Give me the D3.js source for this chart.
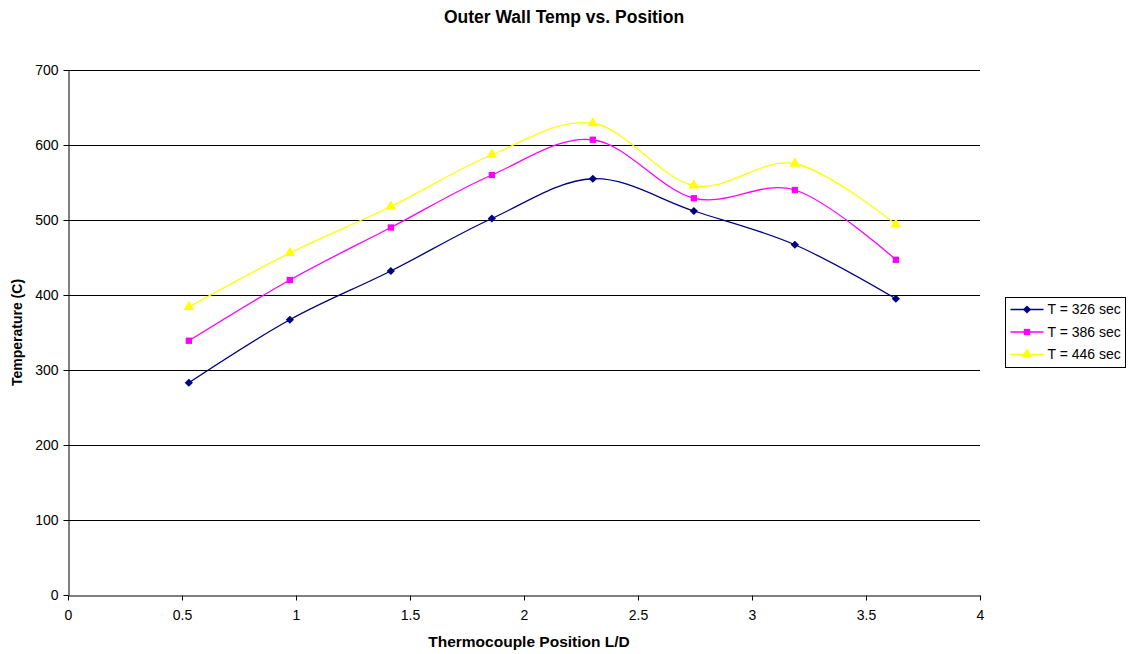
<!DOCTYPE html>
<html>
<head>
<meta charset="utf-8">
<script src="https://cdn.jsdelivr.net/npm/d3@7"></script>
<style>
  body { margin: 0; background: #fff; }
  text { font-family: Arial, "Liberation Sans", sans-serif; }
</style>
</head>
<body>
<div id="chart"></div>
<script>
// positions L/D of the thermocouples
let positions = [0.53, 0.973, 1.416, 1.859, 2.302, 2.745, 3.188, 3.631]
let t326 = [283, 367, 432, 502, 555, 512, 467, 395]
let t386 = [339, 420, 490, 560, 607, 529, 540, 447]
let t446 = [384, 456, 518, 587, 629, 546, 575, 494]
let seriesNames = ['T = 326 sec', 'T = 386 sec', 'T = 446 sec']
let xTicks = [0, 0.5, 1, 1.5, 2, 2.5, 3, 3.5, 4]
let yTicks = [0, 100, 200, 300, 400, 500, 600, 700]

let colors = ['#000080', '#ff00ff', '#ffff00']
// diamond is a square turned 45 degrees
let symbols = [d3.symbolSquare, d3.symbolSquare, d3.symbolTriangle]
let rotations = [45, 0, 0]
let symbolSizes = [34, 40, 50]

let width = 1128
let height = 654
let margin = { left: 68, right: 148, top: 70, bottom: 59 }

let svg = d3.select('#chart').append('svg')
  .attr('width', width)
  .attr('height', height)

let x = d3.scaleLinear().domain([0, 4]).range([margin.left, width - margin.right])
let y = d3.scaleLinear().domain([0, 700]).range([height - margin.bottom, margin.top])

// grid lines
svg.append('g')
  .selectAll('line')
  .data(yTicks.filter(d => d > 0))
  .enter()
  .append('line')
  .attr('x1', x(0))
  .attr('x2', x(4))
  .attr('y1', d => y(d) + 0.5)
  .attr('y2', d => y(d) + 0.5)
  .attr('stroke', '#000')
  .attr('stroke-width', 1)

// axes
let xAxis = svg.append('g')
  .attr('transform', 'translate(0,' + (y(0) + 0.5) + ')')
  .call(d3.axisBottom(x).tickValues(xTicks).tickSize(5).tickSizeOuter(0).tickFormat(d3.format('')))
let yAxis = svg.append('g')
  .attr('transform', 'translate(' + (x(0) + 0.5) + ',0)')
  .call(d3.axisLeft(y).tickValues(yTicks).tickSize(5).tickSizeOuter(0))

;[xAxis, yAxis].forEach(a => {
  a.select('.domain').attr('stroke', '#000')
  a.selectAll('.tick line').attr('stroke', '#000')
  a.selectAll('.tick text')
    .attr('fill', '#000')
    .style('font-size', '14px')
    .style('font-family', 'Arial, "Liberation Sans", sans-serif')
})
xAxis.selectAll('.tick text').attr('dy', '1.2em')
yAxis.selectAll('.tick text').attr('x', -10)

// series
let allSeries = [t326, t386, t446].map((vals, i) => ({
  name: seriesNames[i],
  color: colors[i],
  symbol: symbols[i],
  rot: rotations[i],
  size: symbolSizes[i],
  points: vals.map((v, j) => ({ x: positions[j], y: v }))
}))

let line = d3.line()
  .x(d => x(d.x))
  .y(d => y(d.y))
  .curve(d3.curveCatmullRom.alpha(0))

let plot = svg.append('g')
allSeries.forEach(s => {
  plot.append('path')
    .attr('d', line(s.points))
    .attr('fill', 'none')
    .attr('stroke', s.color)
    .attr('stroke-width', 1.3)
})
allSeries.forEach(s => {
  plot.selectAll(null)
    .data(s.points)
    .enter()
    .append('path')
    .attr('transform', d => 'translate(' + x(d.x) + ',' + y(d.y) + ') rotate(' + s.rot + ')')
    .attr('d', d3.symbol().type(s.symbol).size(s.size))
    .attr('fill', s.color)
})

// title and axis titles
svg.append('text')
  .attr('x', width / 2)
  .attr('y', 23)
  .attr('text-anchor', 'middle')
  .style('font-size', '17.5px')
  .style('font-weight', 'bold')
  .text('Outer Wall Temp vs. Position')

svg.append('text')
  .attr('x', (x(0) + x(4)) / 2 + 5)
  .attr('y', 647)
  .attr('text-anchor', 'middle')
  .style('font-size', '15.5px')
  .style('font-weight', 'bold')
  .text('Thermocouple Position L/D')

svg.append('text')
  .attr('transform', 'translate(22,' + (y(350)) + ') rotate(-90)')
  .attr('text-anchor', 'middle')
  .style('font-size', '14px')
  .style('font-weight', 'bold')
  .text('Temperature (C)')

// legend
let legend = svg.append('g').attr('transform', 'translate(1005.5,297.5)')
legend.append('rect')
  .attr('width', 120)
  .attr('height', 70)
  .attr('fill', '#fff')
  .attr('stroke', '#000')

let item = legend.selectAll('.item')
  .data(allSeries)
  .enter()
  .append('g')
  .attr('class', 'item')
  .attr('transform', (d, i) => 'translate(0,' + (12 + i * 22.5) + ')')
item.append('line')
  .attr('x1', 5)
  .attr('x2', 38)
  .attr('stroke', d => d.color)
  .attr('stroke-width', 1.3)
item.append('path')
  .attr('transform', d => 'translate(21.5,0) rotate(' + d.rot + ')')
  .attr('d', d => d3.symbol().type(d.symbol).size(d.size)())
  .attr('fill', d => d.color)
item.append('text')
  .attr('x', 42)
  .attr('dy', '0.35em')
  .style('font-size', '14px')
  .text(d => d.name)
</script>
</body>
</html>
